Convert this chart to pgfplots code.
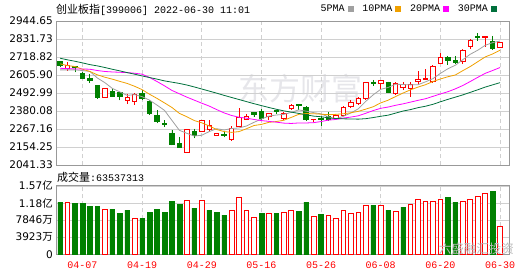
\documentclass[border=0pt]{standalone}
\usepackage{fontspec}
\usepackage{pgfplots}
\pgfplotsset{compat=1.18}
\usepgfplotslibrary{statistics}
\setmainfont{DejaVu Sans}
\setmonofont{Liberation Mono}
\newfontfamily\cjk{Noto Sans CJK SC}
\definecolor{upred}{HTML}{FF0000}
\definecolor{dngreen}{HTML}{008000}
\definecolor{ma5c}{HTML}{A0A0A0}
\definecolor{ma10c}{HTML}{F0A000}
\definecolor{ma20c}{HTML}{FF00FF}
\definecolor{ma30c}{HTML}{00703C}
\definecolor{gridc}{HTML}{D0D0D0}
\definecolor{framec}{HTML}{999999}
\definecolor{wmc}{HTML}{E6E6EA}
% x, low, open, close, high
\newcommand\up[5]{\addplot[forget plot, draw=upred, fill=white, line width=0.9pt,
  boxplot prepared={draw position=#1, lower whisker=#2, lower quartile=#3, median=#4, upper quartile=#4, upper whisker=#5}] coordinates {};}
% x, low, close, open, high
\newcommand\dn[5]{\addplot[forget plot, draw=dngreen, fill=dngreen, line width=0.9pt,
  boxplot prepared={draw position=#1, lower whisker=#2, lower quartile=#3, median=#4, upper quartile=#4, upper whisker=#5}] coordinates {};}
\pgfplotsset{
  common/.style={
    scale only axis, width=453pt, xmin=-0.55, xmax=60.2,
    xtick={3,11,19,27,35,43,51,59},
    major tick length=0pt,
    ymajorgrids, xmajorgrids,
    y grid style={gridc, line width=0.8pt},
    x grid style={gridc, line width=0.8pt, dash pattern=on 4pt off 3pt},
    axis line style={framec, line width=1pt},
    yticklabel style={font=\fontsize{10.5}{10.5}\selectfont, text=black, anchor=east, inner sep=0pt, xshift=-3pt},
  }
}
\begin{document}
\begin{tikzpicture}
\path[use as bounding box] (0pt,0pt) rectangle (530pt,276pt);
\node[text=wmc, inner sep=0pt] at (300pt,187pt) {\cjk\fontsize{31}{31}\selectfont 东方财富};
\node[anchor=west, inner sep=0pt] at (56pt,266.5pt) {{\cjk\fontsize{11}{11}\selectfont 创业板指}{\ttfamily\fontsize{10}{10}\selectfont[399006] 2022-06-30 11:01}};
\node[anchor=west, inner sep=0pt] at (57pt,99pt) {{\cjk\fontsize{11}{11}\selectfont 成交量}{\ttfamily\fontsize{10}{10}\selectfont:63537313}};
\begin{axis}[common,
  at={(56pt,111pt)}, anchor=south west, height=144pt,
  ymin=2041.33, ymax=2944.65,
  xticklabels={},
  ytick={2041.33,2154.25,2267.16,2380.08,2492.99,2605.90,2718.82,2831.73,2944.65},
  yticklabels={2041.33,2154.25,2267.16,2380.08,2492.99,2605.90,2718.82,2831.73,2944.65},
  boxplot/draw direction=y, boxplot/box extend=0.6, boxplot/whisker extend=0,
  legend plot pos=right, legend columns=4,
  legend image code/.code={\fill[#1] (0pt,-2.5pt) rectangle (5pt,2.5pt);},
  legend style={at={(0.9735,1.0833)}, anchor=east, draw=none, fill=none, inner sep=0pt,
    font=\ttfamily\fontsize{10}{10}\selectfont,
    /tikz/every odd column/.append style={column sep=1pt},
    /tikz/every even column/.append style={column sep=7pt}},
]
\dn{0}{2660}{2665}{2688}{2692}
\up{1}{2634}{2646}{2667}{2686}
\dn{2}{2623}{2651}{2659}{2662}
\dn{3}{2580}{2584}{2615}{2627}
\dn{4}{2555}{2571}{2582}{2613}
\dn{5}{2459}{2463}{2538}{2540}
\up{6}{2465}{2467}{2523}{2525}
\dn{7}{2471}{2471}{2502}{2517}
\dn{8}{2446}{2471}{2494}{2502}
\up{9}{2421}{2448}{2463}{2488}
\up{10}{2415}{2440}{2486}{2496}
\dn{11}{2446}{2459}{2488}{2509}
\dn{12}{2356}{2363}{2442}{2450}
\dn{13}{2302}{2315}{2350}{2384}
\dn{14}{2279}{2296}{2302}{2321}
\dn{15}{2165}{2171}{2237}{2262}
\dn{16}{2152}{2152}{2175}{2217}
\up{17}{2123}{2123}{2267}{2267}
\dn{18}{2208}{2229}{2250}{2269}
\up{19}{2246}{2254}{2321}{2325}
\up{20}{2250}{2267}{2288}{2321}
\up{21}{2227}{2229}{2242}{2244}
\dn{22}{2215}{2225}{2233}{2256}
\up{23}{2196}{2200}{2273}{2283}
\up{24}{2279}{2283}{2342}{2398}
\up{25}{2325}{2329}{2348}{2363}
\dn{26}{2342}{2357}{2369}{2373}
\dn{27}{2325}{2331}{2377}{2392}
\up{28}{2325}{2346}{2363}{2367}
\dn{29}{2363}{2375}{2381}{2388}
\up{30}{2325}{2331}{2367}{2371}
\up{31}{2388}{2396}{2417}{2425}
\dn{32}{2384}{2413}{2421}{2421}
\dn{33}{2321}{2325}{2404}{2409}
\up{34}{2308}{2325}{2329}{2329}
\dn{35}{2288}{2325}{2334}{2346}
\dn{36}{2321}{2325}{2346}{2371}
\up{37}{2329}{2336}{2350}{2357}
\up{38}{2346}{2352}{2404}{2409}
\up{39}{2398}{2409}{2436}{2450}
\up{40}{2419}{2425}{2457}{2465}
\up{41}{2450}{2457}{2559}{2565}
\dn{42}{2538}{2555}{2561}{2575}
\up{43}{2513}{2555}{2571}{2575}
\dn{44}{2492}{2498}{2559}{2565}
\up{45}{2482}{2488}{2555}{2559}
\up{46}{2513}{2530}{2549}{2565}
\up{47}{2465}{2521}{2549}{2561}
\up{48}{2548}{2563}{2575}{2632}
\up{49}{2575}{2575}{2586}{2646}
\up{50}{2559}{2563}{2657}{2669}
\up{51}{2676}{2680}{2713}{2742}
\dn{52}{2671}{2696}{2713}{2726}
\dn{53}{2680}{2682}{2700}{2726}
\up{54}{2678}{2694}{2763}{2767}
\up{55}{2767}{2784}{2824}{2830}
\dn{56}{2822}{2840}{2847}{2867}
\up{57}{2784}{2840}{2849}{2853}
\dn{58}{2767}{2771}{2817}{2851}
\up{59}{2776}{2780}{2811}{2815}
\addplot[ma5c, line width=0.8pt] coordinates {(0,2638)(1,2638)(2,2638)(3,2634)(4,2628)(5,2587)(6,2558)(7,2522)(8,2500)(9,2478)(10,2483)(11,2470)(12,2448)(13,2417)(14,2384)(15,2321)(16,2259)(17,2240)(18,2223)(19,2228)(20,2251)(21,2269)(22,2261)(23,2270)(24,2274)(25,2286)(26,2309)(27,2330)(28,2348)(29,2355)(30,2359)(31,2371)(32,2387)(33,2379)(34,2370)(35,2362)(36,2343)(37,2331)(38,2347)(39,2368)(40,2394)(41,2441)(42,2482)(43,2516)(44,2528)(45,2548)(46,2546)(47,2544)(48,2545)(49,2563)(50,2583)(51,2616)(52,2645)(53,2667)(54,2702)(55,2736)(56,2761)(57,2792)(58,2809)(59,2819)};
\addlegendentry{5PMA}
\addplot[ma10c, line width=0.8pt] coordinates {(0,2676)(1,2665)(2,2659)(3,2642)(4,2628)(5,2607)(6,2592)(7,2580)(8,2566)(9,2553)(10,2535)(11,2514)(12,2485)(13,2459)(14,2431)(15,2402)(16,2365)(17,2344)(18,2320)(19,2306)(20,2286)(21,2264)(22,2251)(23,2246)(24,2251)(25,2269)(26,2289)(27,2296)(28,2309)(29,2314)(30,2322)(31,2340)(32,2359)(33,2364)(34,2363)(35,2360)(36,2357)(37,2359)(38,2363)(39,2369)(40,2378)(41,2392)(42,2407)(43,2431)(44,2448)(45,2471)(46,2493)(47,2513)(48,2530)(49,2545)(50,2565)(51,2581)(52,2595)(53,2606)(54,2633)(55,2659)(56,2689)(57,2719)(58,2738)(59,2761)};
\addlegendentry{10PMA}
\addplot[ma20c, line width=0.8pt] coordinates {(0,2648)(1,2646)(2,2644)(3,2644)(4,2642)(5,2634)(6,2628)(7,2625)(8,2623)(9,2621)(10,2617)(11,2611)(12,2590)(13,2565)(14,2538)(15,2509)(16,2488)(17,2467)(18,2448)(19,2429)(20,2411)(21,2389)(22,2368)(23,2352)(24,2341)(25,2335)(26,2327)(27,2320)(28,2315)(29,2310)(30,2304)(31,2302)(32,2305)(33,2305)(34,2307)(35,2314)(36,2323)(37,2327)(38,2336)(39,2342)(40,2350)(41,2366)(42,2383)(43,2397)(44,2405)(45,2416)(46,2425)(47,2436)(48,2447)(49,2457)(50,2472)(51,2487)(52,2501)(53,2519)(54,2540)(55,2565)(56,2591)(57,2616)(58,2634)(59,2653)};
\addlegendentry{20PMA}
\addplot[ma30c, line width=0.8pt] coordinates {(0,2711)(1,2701)(2,2692)(3,2682)(4,2671)(5,2663)(6,2653)(7,2642)(8,2632)(9,2621)(10,2611)(11,2600)(12,2590)(13,2580)(14,2569)(15,2561)(16,2553)(17,2543)(18,2531)(19,2518)(20,2505)(21,2492)(22,2478)(23,2465)(24,2452)(25,2439)(26,2426)(27,2414)(28,2402)(29,2391)(30,2381)(31,2373)(32,2365)(33,2356)(34,2348)(35,2344)(36,2337)(37,2333)(38,2331)(39,2330)(40,2329)(41,2332)(42,2339)(43,2347)(44,2354)(45,2367)(46,2380)(47,2389)(48,2401)(49,2410)(50,2422)(51,2438)(52,2453)(53,2467)(54,2481)(55,2497)(56,2513)(57,2530)(58,2544)(59,2558)};
\addlegendentry{30PMA}
\end{axis}
\begin{axis}[common,
  at={(56pt,21.7pt)}, anchor=south west, height=68.3pt,
  ymin=0, ymax=15692, scaled y ticks=false,
  xticklabels={04-07,04-19,04-29,05-16,05-26,06-08,06-20,06-30},
  xticklabel style={font=\ttfamily\fontsize{10}{10}\selectfont, text=upred, anchor=north, inner sep=0pt, yshift=-7pt},
  ytick={0,3923,7846,11769,15692},
  yticklabels={0,3923{\cjk 万},7846{\cjk 万},1.18{\cjk 亿},1.57{\cjk 亿}},
]
\addplot[ybar, bar width=0.63, bar shift=0pt, draw=upred, fill=white, line width=0.9pt] coordinates {(1,11937)(6,10405)(10,8262)(17,12397)(19,12397)(23,10100)(24,13086)(25,10100)(26,8492)(28,9411)(30,9641)(31,10100)(34,8722)(36,8951)(37,8262)(38,10100)(39,9411)(40,9641)(41,11324)(43,11324)(45,9870)(47,11478)(48,12627)(49,12167)(50,12167)(51,12627)(54,12167)(55,12627)(56,13392)(57,14005)(59,6354)};
\addplot[ybar, bar width=0.63, bar shift=0pt, draw=dngreen, fill=dngreen, line width=0.5pt] coordinates {(0,12013)(2,11630)(3,11630)(4,10941)(5,10941)(7,10405)(8,9333)(9,10176)(11,8262)(12,9716)(13,10405)(14,9563)(15,12243)(16,11401)(18,10635)(20,10176)(21,9716)(22,9027)(27,9333)(29,9411)(32,9946)(33,12013)(35,9257)(42,11324)(44,10176)(46,10865)(52,13162)(53,12013)(58,14540)};
\end{axis}
\node[anchor=east, text=gray!55, inner sep=0pt] at (514pt,27pt) {\cjk\fontsize{12.5}{12.5}\selectfont 六盛融汇投资};
\end{tikzpicture}
\end{document}
